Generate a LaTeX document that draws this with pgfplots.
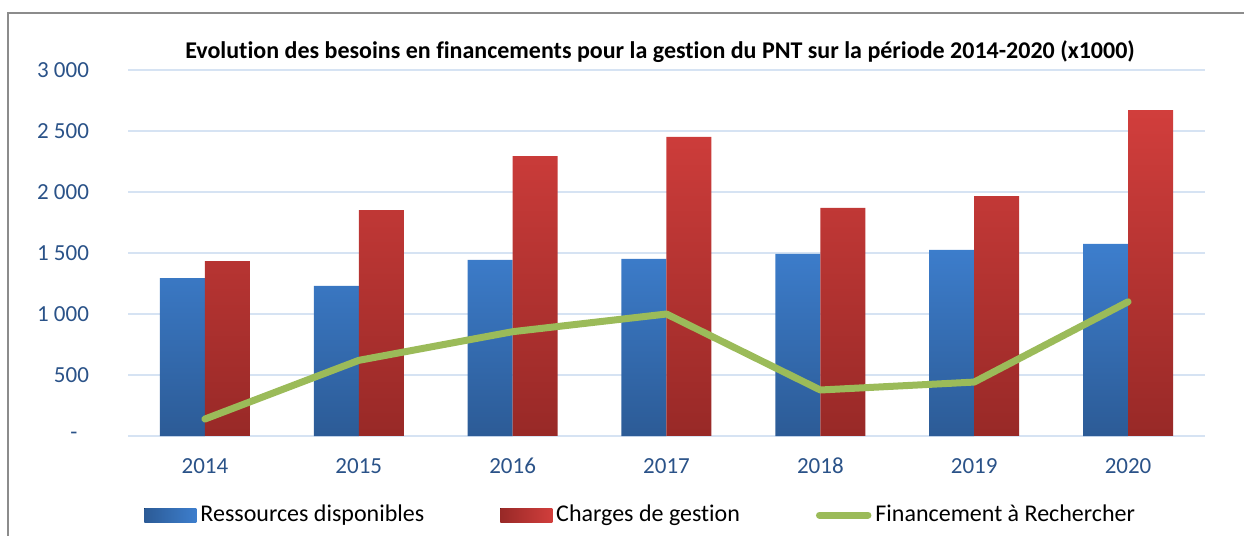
\documentclass[border=0pt]{standalone}
\usepackage{pgfplots}
\pgfplotsset{compat=1.18}
\usepackage{fontspec}
\setmainfont[Ligatures=NoCommon]{Carlito}
\definecolor{blueT}{HTML}{3D7ECD}
\definecolor{blueB}{HTML}{2C5B96}
\definecolor{redT}{HTML}{D13E3C}
\definecolor{redB}{HTML}{982927}
\definecolor{greenL}{HTML}{9BBB59}
\definecolor{gridc}{HTML}{D6E3F3}
\definecolor{tickc}{HTML}{2A5288}
\definecolor{framec}{HTML}{8C8C8C}
\begin{document}
\begin{tikzpicture}
\useasboundingbox (0,0) rectangle (622bp,268bp);
\draw[framec, line width=0.8bp] (4bp,-1bp) -- (4bp,261.5bp) -- (623bp,261.5bp);
\node[font=\fontsize{12bp}{14bp}\selectfont\bfseries] at (330bp,242bp) {Evolution des besoins en financements pour la gestion du PNT sur la période 2014-2020 (x1000)};
\begin{axis}[
  at={(64bp,50bp)}, anchor=south west,
  scale only axis, width=538.5bp, height=183bp,
  xmin=-0.5, xmax=6.5, ymin=0, ymax=3000,
  ybar=0pt, bar width=22.5bp,
  xtick={0,1,2,3,4,5,6},
  xticklabels={2014,2015,2016,2017,2018,2019,2020},
  ytick={0,500,1000,1500,2000,2500,3000},
  yticklabels={-\hphantom{0},500,1 000,1 500,2 000,2 500,3 000},
  major tick length=0pt,
  axis y line*=left,
  y axis line style={draw=none},
  axis x line*=bottom,
  x axis line style={gridc, line width=0.8bp, -},
  ymajorgrids, grid style={gridc, line width=0.8bp},
  tick label style={font=\fontsize{11.5bp}{13bp}\selectfont, text=tickc},
  yticklabel style={anchor=east, xshift=-16bp},
  xticklabel style={anchor=north, yshift=-7bp, text height=8bp, text depth=0pt},
  /pgf/number format/assume math mode=true,
  legend columns=3,
  legend style={at={(0.477,-0.216)}, anchor=center, draw=none, fill=none,
    font=\fontsize{12bp}{14bp}\selectfont,
    /tikz/every even column/.append style={column sep=36bp}},
  clip=false,
]
\addplot[draw=none, top color=blueT, bottom color=blueB,
  legend image code/.code={\fill[left color=blueB, right color=blueT] (0bp,-3.5bp) rectangle (26bp,3.5bp);}]
  coordinates {(0,1295) (1,1230) (2,1443) (3,1451) (4,1492) (5,1525) (6,1574)};
\addlegendentry{Ressources disponibles}
\addplot[draw=none, top color=redT, bottom color=redB,
  legend image code/.code={\fill[left color=redB, right color=redT] (0bp,-3.5bp) rectangle (26bp,3.5bp);}]
  coordinates {(0,1434) (1,1852) (2,2295) (3,2451) (4,1869) (5,1967) (6,2672)};
\addlegendentry{Charges de gestion}
\addplot[sharp plot, greenL, line width=3.5bp, line cap=round, line join=round, mark=none,
  legend image code/.code={\draw[greenL, line width=3.5bp, line cap=round] (1.75bp,0) -- (26bp,0);}]
  coordinates {(0,139) (1,620) (2,855) (3,1000) (4,377) (5,442) (6,1100)};
\addlegendentry{Financement à Rechercher}
\end{axis}
\end{tikzpicture}
\end{document}
